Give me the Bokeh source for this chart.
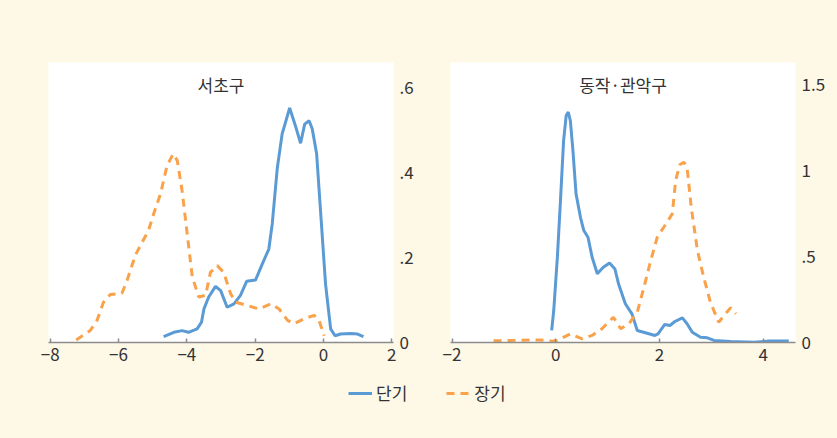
from bokeh.plotting import figure
from bokeh.layouts import column, row
from bokeh.models import Range1d, Label, Legend, LegendItem, FixedTicker, LinearAxis
from bokeh.embed import file_html
from bokeh.resources import INLINE

# ---- data ----
seocho_short_x = [-4.68, -4.38, -4.14, -3.95, -3.70, -3.57, -3.50, -3.36, -3.16, -3.01, -2.82, -2.62, -2.43,
                  -2.25, -1.99, -1.79, -1.60, -1.50, -1.35, -1.21, -0.99, -0.81, -0.67, -0.55, -0.42, -0.33,
                  -0.20, -0.08, 0.06, 0.21, 0.34, 0.50, 0.80, 1.00, 1.17]
seocho_short_y = [0.014, 0.024, 0.028, 0.024, 0.032, 0.048, 0.079, 0.107, 0.132, 0.122, 0.083, 0.091, 0.111,
                  0.144, 0.147, 0.185, 0.220, 0.279, 0.412, 0.491, 0.552, 0.507, 0.469, 0.514, 0.522, 0.503,
                  0.444, 0.303, 0.138, 0.032, 0.016, 0.020, 0.021, 0.020, 0.014]
seocho_long_x = [-7.24, -6.83, -6.63, -6.44, -6.24, -5.90, -5.75, -5.51, -5.36, -5.12, -4.97, -4.77, -4.58,
                 -4.40, -4.28, -4.14, -3.99, -3.84, -3.65, -3.45, -3.31, -3.11, -2.92, -2.72, -2.57, -2.23,
                 -1.89, -1.54, -1.30, -1.05, -0.86, -0.57, -0.27, -0.13, 0.02]
seocho_long_y = [0.006, 0.028, 0.052, 0.095, 0.113, 0.116, 0.146, 0.205, 0.228, 0.264, 0.303, 0.350, 0.416,
                 0.444, 0.428, 0.358, 0.256, 0.154, 0.107, 0.111, 0.165, 0.181, 0.165, 0.115, 0.095, 0.087,
                 0.079, 0.091, 0.079, 0.052, 0.044, 0.056, 0.064, 0.052, 0.016]

dongjak_short_x = [-0.08, -0.04, 0.03, 0.09, 0.15, 0.20, 0.24, 0.28, 0.33, 0.39, 0.475, 0.54, 0.62, 0.70,
                   0.80, 0.91, 1.035, 1.14, 1.21, 1.34, 1.47, 1.57, 1.76, 1.91, 1.97, 2.10, 2.20, 2.295,
                   2.44, 2.53, 2.63, 2.79, 2.92, 3.05, 3.37, 3.82, 4.08, 4.49]
dongjak_short_y = [0.070, 0.186, 0.496, 0.826, 1.174, 1.320, 1.340, 1.290, 1.116, 0.864, 0.728, 0.651, 0.612,
                   0.496, 0.400, 0.436, 0.462, 0.427, 0.340, 0.225, 0.165, 0.070, 0.054, 0.041, 0.050, 0.105,
                   0.099, 0.122, 0.143, 0.109, 0.060, 0.031, 0.027, 0.012, 0.006, 0.002, 0.008, 0.008]
dongjak_long_x = [-1.20, -0.30, -0.07, 0.03, 0.28, 0.51, 0.70, 0.89, 1.11, 1.25, 1.41, 1.57, 1.70, 1.83,
                  1.955, 2.08, 2.245, 2.31, 2.39, 2.47, 2.53, 2.61, 2.73, 2.85, 2.98, 3.14, 3.27, 3.37, 3.47]
dongjak_long_y = [0.010, 0.015, 0.008, 0.012, 0.050, 0.021, 0.041, 0.080, 0.147, 0.080, 0.109, 0.176, 0.322,
                  0.477, 0.612, 0.670, 0.748, 0.942, 1.033, 1.048, 1.019, 0.787, 0.535, 0.380, 0.234, 0.118,
                  0.167, 0.202, 0.167]

titles = ["서초구", "동작·관악구"]
series_names = ["단기", "장기"]
p1_xticks = [-8, -6, -4, -2, 0, 2]
p1_yticks = [0, 0.2, 0.4, 0.6]
p1_ylabels = {0: "0", 0.2: ".2", 0.4: ".4", 0.6: ".6"}
p2_xticks = [-2, 0, 2, 4]
p2_yticks = [0, 0.5, 1, 1.5]
p2_ylabels = {0: "0", 0.5: ".5", 1: "1", 1.5: "1.5"}

CREAM = "#FEF8E7"
BLUE = "#5B9BD5"
ORANGE = "#F9A24B"
FONT = "Noto Sans CJK KR"
TXT = "#333333"


def make_panel(width, height, xr, yr, xticks, yticks, ylabels, title, border_left, border_right):
    p = figure(width=width, height=height, x_range=Range1d(*xr), y_range=Range1d(*yr),
               output_backend="svg", toolbar_location=None,
               min_border_left=border_left, min_border_right=border_right,
               min_border_top=62, min_border_bottom=26, y_axis_location=None)
    p.background_fill_color = "white"
    p.border_fill_color = CREAM
    p.outline_line_color = None
    p.grid.visible = False
    xa = p.xaxis[0]
    xa.ticker = FixedTicker(ticks=xticks)
    xa.axis_line_color = "#8c8c8c"
    xa.axis_line_width = 1.5
    xa.major_tick_line_color = "#8c8c8c"
    xa.major_tick_line_width = 1.5
    xa.major_tick_in = 4
    xa.major_tick_out = 0
    xa.minor_tick_line_color = None
    xa.major_label_text_font = FONT
    xa.major_label_text_font_size = "17px"
    xa.major_label_text_color = TXT
    xa.major_label_standoff = 5
    ya = LinearAxis(ticker=FixedTicker(ticks=yticks), major_label_overrides=ylabels)
    ya.axis_line_color = None
    ya.major_tick_line_color = None
    ya.minor_tick_line_color = None
    ya.major_label_text_font = FONT
    ya.major_label_text_font_size = "17px"
    ya.major_label_text_color = TXT
    ya.major_label_standoff = 0
    p.add_layout(ya, "right")
    lab = Label(x=(xr[0] + xr[1]) / 2, y=yr[1], y_offset=-22, text=title,
                text_align="center", text_baseline="middle",
                text_font=FONT, text_font_size="17px", text_color=TXT)
    p.add_layout(lab)
    return p


p1 = make_panel(420, 368, (-8.05, 2.05), (0, 0.659), p1_xticks, p1_yticks, p1_ylabels,
                titles[0], 48, 27)
p1.line(seocho_short_x, seocho_short_y, line_color=BLUE, line_width=3)
p1.line(seocho_long_x, seocho_long_y, line_color=ORANGE, line_width=3, line_dash="8 6")

p2 = make_panel(417, 368, (-2.03, 4.62), (0, 1.628), p2_xticks, p2_yticks, p2_ylabels,
                titles[1], 30, 42)
p2.line(dongjak_short_x, dongjak_short_y, line_color=BLUE, line_width=3)
p2.line(dongjak_long_x, dongjak_long_y, line_color=ORANGE, line_width=3, line_dash="8 6")

# legend panel: the series are drawn outside its visible range, only the legend shows
p3 = figure(width=837, height=70, x_range=Range1d(100, 101), y_range=Range1d(100, 101),
            output_backend="svg", toolbar_location=None,
            min_border_left=0, min_border_right=0, min_border_top=0, min_border_bottom=0)
p3.axis.visible = False
p3.grid.visible = False
p3.outline_line_color = None
p3.background_fill_color = CREAM
p3.border_fill_color = CREAM
r1 = p3.line(seocho_short_x, seocho_short_y, line_color=BLUE, line_width=3)
r2 = p3.line(seocho_long_x, seocho_long_y, line_color=ORANGE, line_width=3, line_dash="8 6")
legend = Legend(items=[LegendItem(label=series_names[0], renderers=[r1]),
                       LegendItem(label=series_names[1], renderers=[r2])],
                orientation="horizontal", location=(348, 33),
                background_fill_alpha=0, border_line_color=None,
                label_text_font=FONT, label_text_font_size="17px", label_text_color=TXT,
                glyph_width=24, glyph_height=20, label_standoff=4, spacing=39,
                padding=0, margin=0)
p3.add_layout(legend)

layout = column(row(p1, p2, spacing=0), p3, spacing=0)
layout.styles = {"background-color": CREAM}

open("out.html", "w").write(file_html(layout, INLINE))
